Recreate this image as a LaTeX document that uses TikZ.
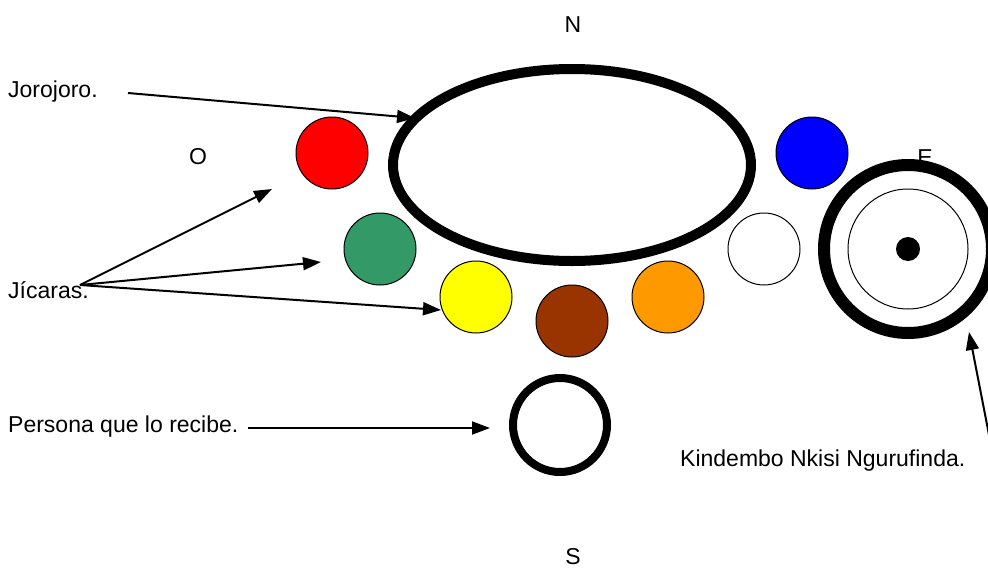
\documentclass[tikz,border=0pt]{standalone}
\usepackage{fontspec}
\setmainfont{Liberation Sans}
\usetikzlibrary{shapes.geometric,arrows.meta}
\definecolor{jgreen}{RGB}{51,153,102}
\definecolor{jbrown}{RGB}{153,51,0}
\definecolor{jorange}{RGB}{255,153,0}
\definecolor{jyellow}{RGB}{255,255,0}
\definecolor{jred}{RGB}{255,0,0}
\definecolor{jblue}{RGB}{0,0,255}
\begin{document}
\begin{tikzpicture}[x=1pt,y=-1pt,
  lbl/.style={inner sep=0pt,font=\fontsize{23}{27}\selectfont},
  jicara/.style={circle,draw=black,line width=1pt,minimum size=72pt,inner sep=0pt},
  arr/.style={line width=2pt,-{Triangle[length=18pt,width=13pt]}}]
\useasboundingbox (0,0) rectangle (988,568);
% compass labels
\node[lbl,anchor=base] (N) at (573,32) {N};
\node[lbl,anchor=base] (O) at (198,164) {O};
\node[lbl,anchor=base] (E) at (925,165) {E};
\node[lbl,anchor=base] (S) at (573,564) {S};
% main ellipse
\node[ellipse,draw=black,line width=10pt,minimum width=358pt,minimum height=192pt,inner sep=0pt] (jorojoro) at (572,165) {};
% jicaras
\node[jicara,fill=jred] (red) at (332,153) {};
\node[jicara,fill=jblue] (blue) at (812,153) {};
\node[jicara,fill=jgreen] (green) at (380,249) {};
\node[jicara,fill=white] (white) at (764,249) {};
\node[jicara,fill=jyellow] (yellow) at (476,297) {};
\node[jicara,fill=jbrown] (brown) at (572,321) {};
\node[jicara,fill=jorange] (orange) at (668,297) {};
% Kindembo
\node[circle,draw=black,line width=12pt,minimum size=168pt,inner sep=0pt] (kindembo) at (908,249) {};
\node[circle,draw=black,line width=1pt,minimum size=120pt,inner sep=0pt] (kinner) at (908,249) {};
\node[circle,fill=black,minimum size=24pt,inner sep=0pt] (kdot) at (908,249) {};
% person
\node[circle,draw=black,line width=8pt,minimum size=94pt,inner sep=0pt] (person) at (560,425) {};
% text labels
\node[lbl,anchor=base west] (tjoro) at (8,97) {Jorojoro.};
\node[lbl,anchor=base west] (tjic) at (8,298) {Jícaras.};
\node[lbl,anchor=base west] (tpers) at (8,432) {Persona que lo recibe.};
\node[lbl,anchor=base west] (tkind) at (680,466) {Kindembo Nkisi Ngurufinda.};
% arrow coordinates
\coordinate (j0) at (128,93);
\coordinate (j1) at (415,118);
\coordinate (c0) at (80,285);
\coordinate (c1) at (272,189);
\coordinate (c2) at (321,262);
\coordinate (c3) at (441,310);
\coordinate (p0) at (248,428);
\coordinate (p1) at (490,428);
\coordinate (k0) at (990,440);
\coordinate (k1) at (969,332);
% arrows
\draw[arr] (j0) -- (j1);
\draw[arr] (c0) -- (c1);
\draw[arr] (c0) -- (c2);
\draw[arr] (c0) -- (c3);
\draw[arr] (p0) -- (p1);
\draw[arr] (k0) -- (k1);
\end{tikzpicture}
\end{document}
